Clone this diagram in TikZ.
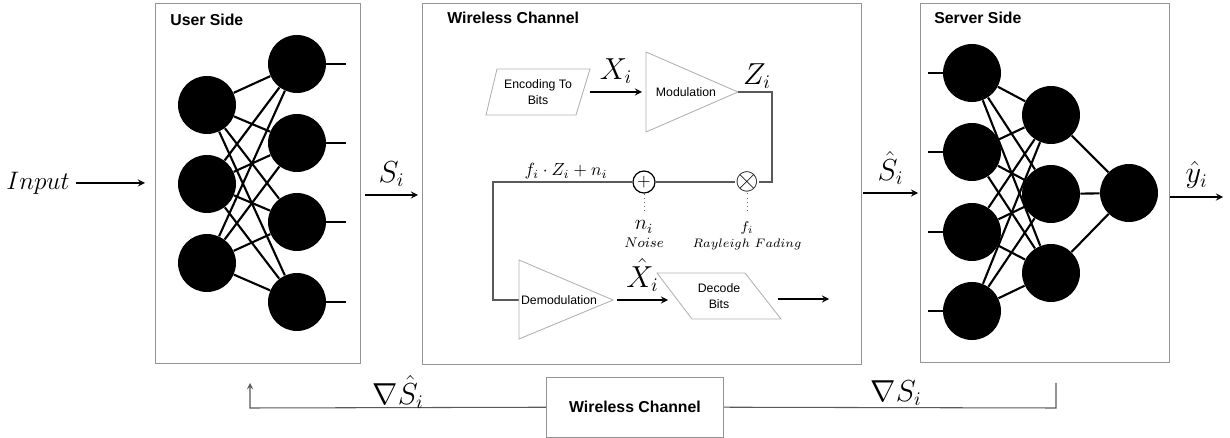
\documentclass[tikz,border=0pt]{standalone}
\usepackage{amsmath}
\usepackage{fontspec}
\setsansfont{Liberation Sans}
\usepackage{tikz}
\usetikzlibrary{arrows.meta}

\tikzset{
  neuron/.style={circle,fill=black,minimum size=1.16cm,inner sep=0pt},
  synapse/.style={line width=1.2pt},
  panel/.style={draw=black!42,line width=0.55pt},
  paneltitle/.style={font=\sffamily\bfseries\fontsize{9}{10}\selectfont,anchor=west,inner sep=0pt},
  block/.style={draw=black!30,line width=0.5pt},
  blocktext/.style={font=\sffamily\fontsize{7}{9}\selectfont,align=center},
  wire/.style={draw=black!65,line width=0.6pt},
  signal/.style={->,line width=0.8pt},
  sym/.style={font=\fontsize{16}{18}\selectfont},
}

\begin{document}
\begin{tikzpicture}[>=stealth, x=0.02cm, y=-0.02cm]
  \useasboundingbox (0,0) rectangle (1230,438);

  % panels
  \draw[panel] (155,3) rectangle (360,363);
  \node[paneltitle] (usertitle) at (170,20) {User Side};
  \draw[panel] (422,3) rectangle (861,364);
  \node[paneltitle] (chantitle) at (447,18) {Wireless Channel};
  \draw[panel] (920,3) rectangle (1169,362);
  \node[paneltitle] (servtitle) at (934,18) {Server Side};

  % user side network
  \foreach \y [count=\k] in {105,184,263} \node[neuron] (u\k) at (207,\y) {};
  \foreach \y [count=\k] in {64,143,222,302} \node[neuron] (v\k) at (297,\y) {};
  \foreach \a in {1,2,3} \foreach \b in {1,...,4} \draw[synapse] (u\a) -- (v\b);
  \foreach \b in {1,...,4} \draw[synapse] (v\b) -- ++(49,0);

  % server side network
  \foreach \y [count=\k] in {73,152,232,311} \node[neuron] (s\k) at (972,\y) {};
  \foreach \y [count=\k] in {115,194,273} \node[neuron] (h\k) at (1051,\y) {};
  \node[neuron] (o1) at (1129,193) {};
  \foreach \a in {1,...,4} \foreach \b in {1,2,3} \draw[synapse] (s\a) -- (h\b);
  \foreach \b in {1,2,3} \draw[synapse] (h\b) -- (o1);
  \foreach \a in {1,...,4} \draw[synapse] (s\a) -- ++(-44,0);

  % inputs and outputs
  \node[font=\Large] (input) at (38,183) {$Input$};
  \coordinate (userin) at (145,183);
  \draw[signal] (input) -- (userin);
  \coordinate (userout) at (365,195);
  \coordinate (chanin) at (418,195);
  \draw[signal] (userout) -- (chanin) node[midway,above=1pt,sym]{$S_i$};
  \coordinate (chanout) at (863,193);
  \coordinate (servin) at (918,193);
  \draw[signal] (chanout) -- (servin) node[midway,above=1pt,sym]{$\hat{S}_i$};
  \coordinate (servout) at (1170,197);
  \coordinate (yend) at (1223,197);
  \draw[signal] (servout) -- (yend) node[midway,above=1pt,sym]{$\hat{y}_i$};

  % wireless channel internals
  \draw[block] (497,69) -- (590,69) -- (576,115) -- (486,115) -- cycle;
  \node[blocktext] (enc) at (538,92) {Encoding To\\Bits};
  \draw[block] (646,52) -- (738,92) coordinate (modout) -- (646,132) -- cycle;
  \node[blocktext] (mod) at (686,92) {Modulation};
  \coordinate (encout) at (590,92);
  \coordinate (modin) at (642,92);
  \draw[signal] (encout) -- (modin) node[midway,above=1pt,sym]{$X_i$};
  \node[sym] (zlabel) at (757,76) {$Z_i$};

  \node[circle,draw,line width=0.7pt,minimum size=0.44cm,inner sep=0pt] (add) at (644,182) {$+$};
  \node[font=\LARGE,inner sep=0pt] (mul) at (747,182) {$\otimes$};
  \draw[wire] (modout) -- (772,92) -- (772,182) -- (mul);
  \draw[wire] (mul) -- (add);
  \coordinate (demodin) at (519,300);
  \draw[wire] (add) -- (493,182) -- (493,300) -- (demodin);
  \node (sumlabel) at (566,171) {$f_i \cdot Z_i + n_i$};

  \node[font=\large] (ni) at (644,227) {$n_i$};
  \node[font=\footnotesize] (noise) at (644,243) {$Noise$};
  \node[font=\footnotesize] (fi) at (747,228) {$f_i$};
  \node[font=\fontsize{7}{8}\selectfont] (fading) at (747,244) {$Rayleigh\ Fading$};
  \coordinate (nitop) at (644,211);
  \coordinate (fitop) at (747,211);
  \draw[dotted,black!60] (nitop) -- (add);
  \draw[dotted,black!60] (fitop) -- (mul);

  \draw[block] (519,260) -- (613,300) -- (519,339) -- cycle;
  \node[blocktext] (demod) at (559,300) {Demodulation};
  \coordinate (demodout) at (617,300);
  \coordinate (decin) at (668,300);
  \draw[signal] (demodout) -- (decin) node[midway,above=1pt,sym]{$\hat{X}_i$};
  \draw[block] (657,273) -- (745,273) -- (781,319) -- (692,319) -- cycle;
  \node[blocktext] (dec) at (719,296) {Decode\\Bits};
  \coordinate (decout) at (778,299);
  \coordinate (decend) at (829,299);
  \draw[signal] (decout) -- (decend);

  % gradient feedback
  \node[panel,minimum width=3.54cm,minimum height=1.2cm,font=\sffamily\bfseries\fontsize{9}{10}\selectfont] (back) at (635,407) {Wireless Channel};
  \coordinate (servgrad) at (1056,383);
  \coordinate (usergrad) at (250,383);
  \draw[wire] (servgrad) -- (1056,408) -- (back);
  \draw[wire,->] (back) -- (250,408) -- (usergrad);
  \node[sym] (gradhat) at (398,392) {$\nabla\hat{S}_i$};
  \node[sym] (grad) at (896,393) {$\nabla S_i$};
\end{tikzpicture}
\end{document}
